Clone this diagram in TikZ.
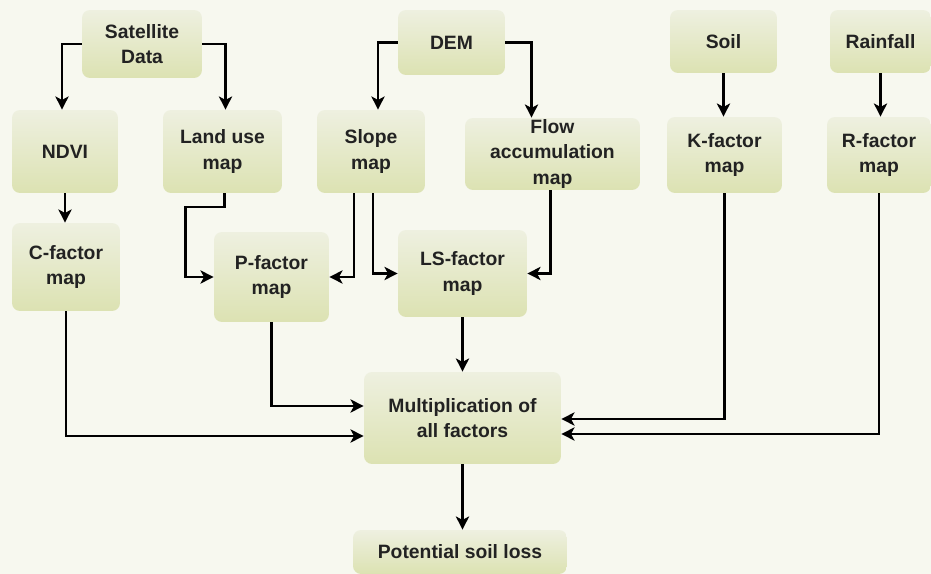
\documentclass[tikz,border=0pt]{standalone}
\usepackage{fontspec}
\setmainfont{Liberation Sans}
\usetikzlibrary{arrows.meta,calc}
\definecolor{bgcol}{HTML}{F7F8EF}
\definecolor{boxtop}{HTML}{EEF0E0}
\definecolor{boxbot}{HTML}{DCE2B2}
\definecolor{txtcol}{HTML}{222222}
\begin{document}
\begin{tikzpicture}[x=.02cm, y=-.02cm,
	box/.style={rounded corners=.16cm, top color=boxtop, middle color=boxtop, bottom color=boxbot,
		align=center, text=txtcol, inner sep=0pt, font=\fontsize{11}{14.5}\selectfont\bfseries},
	arr/.style={draw=black, line width=1.3pt, -{Stealth[length=7.5pt,width=7.5pt,inset=2pt]}}]
	\fill[bgcol] (0,0) rectangle (931,574);
	\useasboundingbox (0,0) rectangle (931,574);
	\node[box, minimum width=2.4cm,  minimum height=1.36cm] (sat)     at (142,44)    {Satellite\\Data};
	\node[box, minimum width=2.14cm, minimum height=1.3cm]  (dem)     at (451.5,42.5) {DEM};
	\node[box, minimum width=2.14cm, minimum height=1.26cm] (soil)    at (723.5,41.5) {Soil};
	\node[box, minimum width=2.02cm, minimum height=1.26cm] (rain)    at (880.5,41.5) {Rainfall};
	\node[box, minimum width=2.12cm, minimum height=1.66cm] (ndvi)    at (65,151.5)  {NDVI};
	\node[box, minimum width=2.38cm, minimum height=1.66cm] (landuse) at (222.5,151.5) {Land use\\map};
	\node[box, minimum width=2.16cm, minimum height=1.66cm] (slope)   at (371,151.5) {Slope\\map};
	\node[box, minimum width=3.5cm,  minimum height=1.44cm] (flow)    at (552.5,154) {Flow\\accumulation\\map};
	\node[box, minimum width=2.3cm,  minimum height=1.52cm] (kfac)    at (724.5,155) {K-factor\\map};
	\node[box, minimum width=2.08cm, minimum height=1.52cm] (rfac)    at (879,155)   {R-factor\\map};
	\node[box, minimum width=2.16cm, minimum height=1.76cm] (cfac)    at (66,267)    {C-factor\\map};
	\node[box, minimum width=2.3cm,  minimum height=1.8cm]  (pfac)    at (271.5,277) {P-factor\\map};
	\node[box, minimum width=2.58cm, minimum height=1.74cm] (lsfac)   at (462.5,273.5) {LS-factor\\map};
	\node[box, minimum width=3.94cm, minimum height=1.84cm] (mult)    at (462.5,418) {Multiplication of\\all factors};
	\node[box, minimum width=4.28cm, minimum height=.88cm]  (loss)    at (460,552)   {Potential soil loss};
	\draw[arr] (sat.west) -| ($(ndvi.north)+(-3,0)$);
	\draw[arr] (sat.east) -| ($(landuse.north)+(3,0)$);
	\draw[arr] (dem.west) -| ($(slope.north)+(7,0)$);
	\draw[arr] (dem.east) -| ($(flow.north)+(-21,0)$);
	\draw[arr] (soil.south) -- (kfac.north -| soil.south);
	\draw[arr] (rain.south) -- (rfac.north -| rain.south);
	\draw[arr] (ndvi.south) -- (cfac.north -| ndvi.south);
	\draw[arr] ($(landuse.south)+(2,0)$) |- ++(-39,14) |- (pfac.west);
	\draw[arr] ($(slope.south)+(-17,0)$) |- (pfac.east);
	\draw[arr] ($(slope.south)+(2,0)$) |- (lsfac.west);
	\draw[arr] ($(flow.south)+(-2,0)$) |- (lsfac.east);
	\draw[arr] (lsfac.south) -- (mult.north);
	\draw[arr] (pfac.south) |- ($(mult.west)+(0,-12)$);
	\draw[arr] (cfac.south) |- ($(mult.west)+(0,18)$);
	\draw[arr] (kfac.south) |- ($(mult.east)+(0,1)$);
	\draw[arr] (rfac.south) |- ($(mult.east)+(0,16)$);
	\draw[arr] (mult.south) -- (loss.north -| mult.south);
\end{tikzpicture}
\end{document}
